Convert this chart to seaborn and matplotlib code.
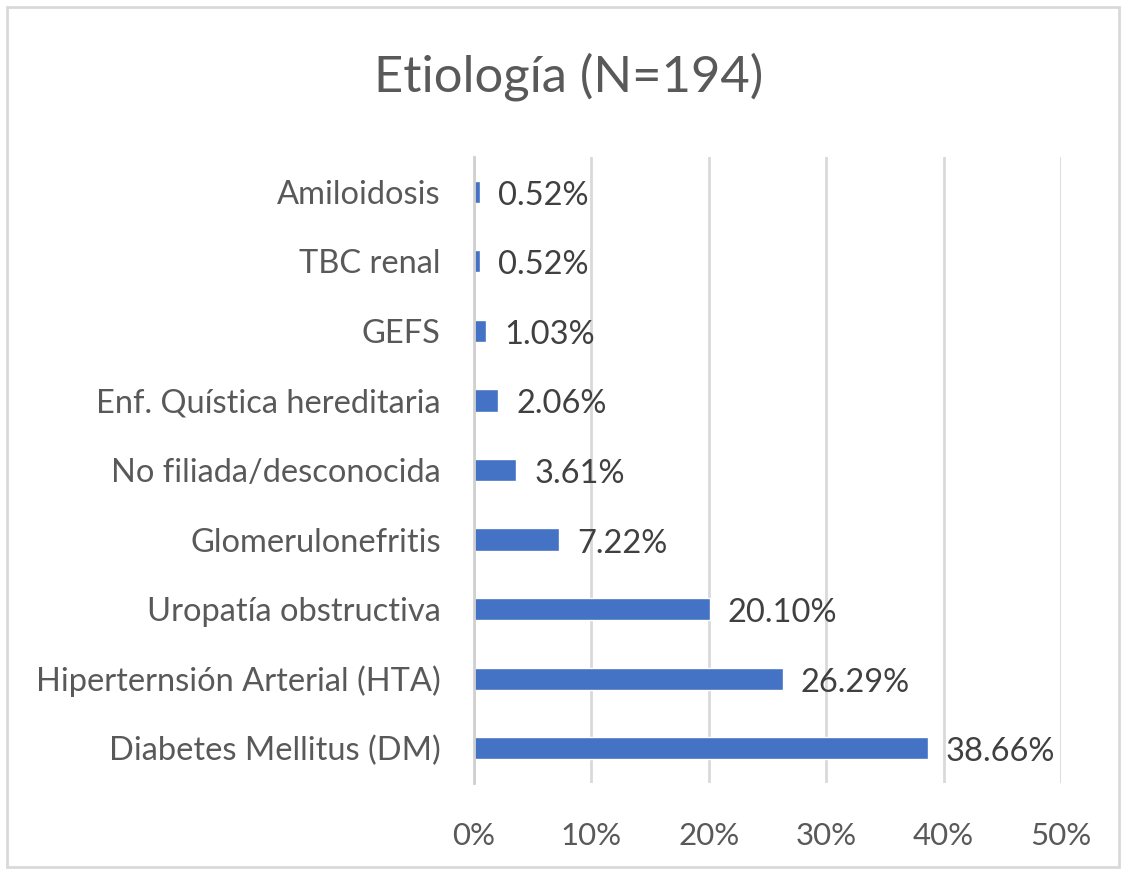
import matplotlib
matplotlib.use("Agg")
import matplotlib.pyplot as plt
import seaborn as sns
import pandas as pd
from matplotlib.patches import Rectangle
from matplotlib.ticker import FuncFormatter, MultipleLocator

categories = ["Amiloidosis", "TBC renal", "GEFS", "Enf. Quística hereditaria",
              "No filiada/desconocida", "Glomerulonefritis", "Uropatía obstructiva",
              "Hiperternsión Arterial (HTA)", "Diabetes Mellitus (DM)"]
values = [0.52, 0.52, 1.03, 2.06, 3.61, 7.22, 20.10, 26.29, 38.66]
labels = ["0.52%", "0.52%", "1.03%", "2.06%", "3.61%", "7.22%", "20.10%", "26.29%", "38.66%"]
title = "Etiología (N=194)"

df = pd.DataFrame({"cat": categories, "val": values})

sns.set_theme(style="white")
plt.rcParams["font.family"] = ["Lato", "DejaVu Sans"]

W, H = 1129, 873
fig = plt.figure(figsize=(W / 100, H / 100), dpi=100)
ax = fig.add_axes([474 / W, (H - 783) / H, (1061 - 474) / W, (783 - 157) / H])

sns.barplot(data=df, x="val", y="cat", order=categories, color="#4472C4",
            width=0.32, saturation=1, ax=ax, orient="h")

ax.set_xlim(0, 50)
ax.xaxis.set_major_locator(MultipleLocator(10))
ax.xaxis.set_major_formatter(FuncFormatter(lambda v, p: f"{v:.0f}%"))
ax.grid(axis="x", color="#d9d9d9", linewidth=2)
ax.set_axisbelow(True)
for s in ["top", "right", "bottom"]:
    ax.spines[s].set_visible(False)
ax.spines["left"].set_color("#d0d0d0")
ax.spines["left"].set_linewidth(2)
ax.set_xlabel("")
ax.set_ylabel("")
ax.tick_params(axis="x", length=0, pad=28, labelsize=22.5, labelcolor="#595959")
ax.tick_params(axis="y", length=0, pad=24, labelsize=23.5, labelcolor="#595959")

for i, (v, lab) in enumerate(zip(values, labels)):
    ax.annotate(lab, xy=(v, i), xytext=(18, -4), textcoords="offset pixels",
                ha="left", va="center", fontsize=23.5, color="#404040")

fig.text(569 / W, 1 - 77 / H, title, ha="center", va="center", fontsize=36.5, color="#595959")

fig.patches.append(Rectangle((7 / W, 1 - 867 / H), (1119 - 7) / W, (867 - 7) / H,
                             transform=fig.transFigure, fill=False,
                             edgecolor="#d9d9d9", linewidth=2))

fig.savefig("out.png", dpi=100)
